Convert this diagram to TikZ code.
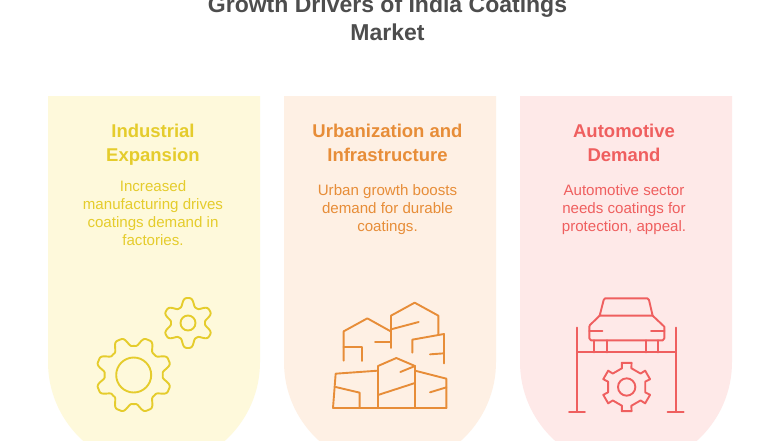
\documentclass[tikz,border=0pt]{standalone}
\usepackage{fontspec}
\setmainfont{Liberation Sans}
\definecolor{cardA}{HTML}{FEF9DB}
\definecolor{cardB}{HTML}{FEF0E4}
\definecolor{cardC}{HTML}{FEE9E8}
\definecolor{inkA}{HTML}{E5CC2C}
\definecolor{inkB}{HTML}{E78D38}
\definecolor{inkC}{HTML}{EF5F5F}
\definecolor{inkT}{HTML}{4D4D4D}
\tikzset{
    title/.style={align=center, inner sep=0pt, text=inkT, font=\fontsize{23}{28}\selectfont\bfseries},
    head/.style={align=center, inner sep=0pt, font=\fontsize{18.5}{24}\selectfont\bfseries},
    body/.style={align=center, inner sep=0pt, font=\fontsize{15.1}{18}\selectfont},
    icon/.style={line width=1.9pt, line join=round, line cap=round}
}
\begin{document}
\begin{tikzpicture}[x=1pt, y=-1pt]
        \clip (0,0) rectangle (780,440);
        \fill[white] (0,0) rectangle (780,440);

        \fill[cardA] (48,96) -- (260,96) -- (260,362) arc (0:180:106) -- cycle;
        \fill[cardB] (284,96) -- (496,96) -- (496,362) arc (0:180:106) -- cycle;
        \fill[cardC] (520,96) -- (732,96) -- (732,362) arc (0:180:106) -- cycle;

        \node (T) [title] at (387.5,18.5) {Growth Drivers of India Coatings\\Market};

        \node (headA) [head, text=inkA] at (153,145) {Industrial\\Expansion};
        \node (headB) [head, text=inkB, right of = headA, node distance=234.5pt, yshift=2pt] {Urbanization and\\Infrastructure};
        \node (headC) [head, text=inkC, right of = headB, node distance=236.5pt] {Automotive\\Demand};

        \node (bodyA) [body, text=inkA, below of = headA, node distance=68.5pt] {Increased\\manufacturing drives\\coatings demand in\\factories.};
        \node (bodyB) [body, text=inkB, below of = headB, node distance=67pt] {Urban growth boosts\\demand for durable\\coatings.};
        \node (bodyC) [body, text=inkC, below of = headC, node distance=67pt] {Automotive sector\\needs coatings for\\protection, appeal.};

        % gears
        \draw[icon, inkA] plot[domain=0:360, samples=289, smooth]
            ({133.7+(33.5+4.4*(cos(8*(\x-22.5))-0.14*cos(24*(\x-22.5)))/0.86)*cos(\x)},{375+(33.5+4.4*(cos(8*(\x-22.5))-0.14*cos(24*(\x-22.5)))/0.86)*sin(\x)}) -- cycle;
        \draw[icon, inkA] (133.7,375) circle (17.5);
        \draw[icon, inkA] plot[domain=0:360, samples=241, smooth]
            ({188+(21+4*(cos(6*(\x-90))-0.1*cos(18*(\x-90)))/0.9)*cos(\x)},{323+(21+4*(cos(6*(\x-90))-0.1*cos(18*(\x-90)))/0.9)*sin(\x)}) -- cycle;
        \draw[icon, inkA] (188,323) circle (7.5);

        % buildings
        \begin{scope}[shift={(300,280)}, scale=1/3, icon, inkB]
            \draw (131,242) -- (131,154) -- (202,115) -- (272,154);
            \draw (131,202) -- (187,202) -- (187,243);
            \draw (225,186) -- (273,186);
            \draw (273,204) -- (273,107) -- (344,68) -- (415,107) -- (415,162);
            \draw (273,148) -- (356,126);
            \draw (337,218) -- (337,179) -- (432,162) -- (432,250);
            \draw (390,223) -- (432,220);
            \draw (99,384) -- (439,384);
            \draw (99,384) -- (107,281) -- (234,272);
            \draw (234,384) -- (234,258) -- (289,234) -- (345,258) -- (345,384);
            \draw (107,321) -- (179,338) -- (179,384);
            \draw (234,345) -- (345,309);
            \draw (301,276) -- (345,258);
            \draw (345,272) -- (439,296) -- (439,384);
            \draw (390,337) -- (439,322);
        \end{scope}

        % car on the lift
        \begin{scope}[shift={(540,280)}, scale=1/3, icon, inkC]
            \draw (179,107) -- (191,60) -- (195,55) -- (322,55) -- (327,60) -- (338,107) -- cycle;
            \draw (179,107) -- (150,135) -- (148,140) -- (148,175) -- (153,181) -- (368,181)
                -- (373,175) -- (373,140) -- (338,107);
            \draw (148,152) -- (187,152);
            \draw (333,152) -- (373,152);
            \foreach \wx in {163,200,318,355}
                \draw (\wx,181) -- (\wx,217);
            \draw (111,217) -- (407,217);
            \draw (111,143) -- (111,395);
            \draw (407,143) -- (407,395);
            \draw (87,395) -- (135,395);
            \draw (383,395) -- (431,395);
            \begin{scope}[shift={(260,321)}]
                \draw (0,0) circle (26);
                \draw (-104:58) \foreach \ang in {-90,-30,30,90,150,210} {
                    -- (\ang-14:58) -- (\ang-11.5:74) -- (\ang+11.5:74) -- (\ang+14:58)
                } -- cycle;
            \end{scope}
        \end{scope}
    \end{tikzpicture}
\end{document}
